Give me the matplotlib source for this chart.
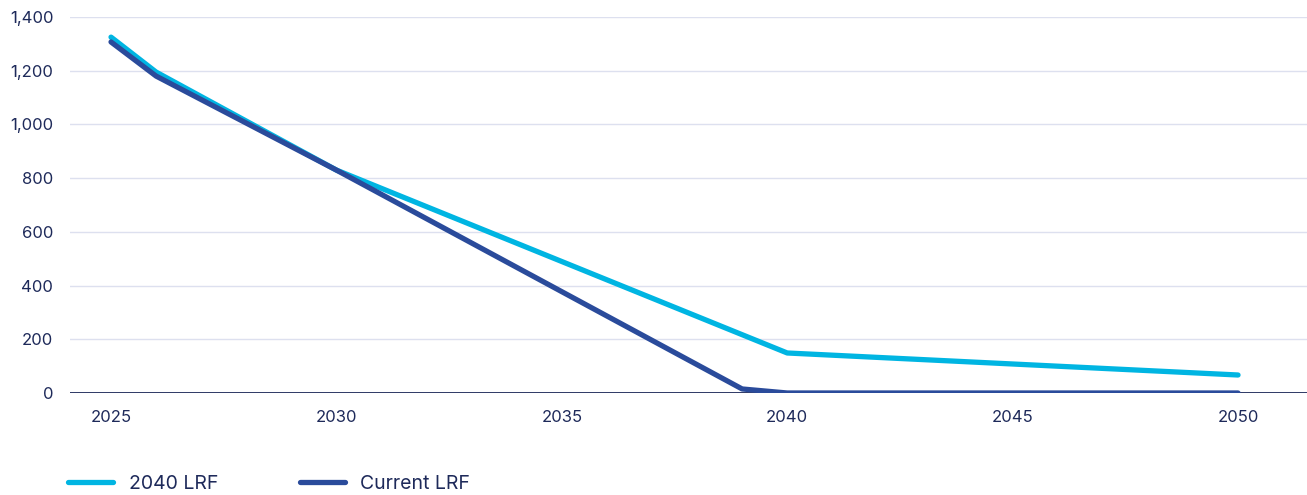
import matplotlib.pyplot as plt
from matplotlib.ticker import FuncFormatter

# Emissions cap paths under the two linear reduction factor scenarios
years_2040 = [2025, 2026, 2030, 2040, 2050]
cap_2040 = [1325, 1195, 830, 149, 67]

years_current = [2025, 2026, 2030, 2039, 2040, 2050]
cap_current = [1307, 1180, 830, 15, 0, 0]

x_ticks = [2025, 2030, 2035, 2040, 2045, 2050]
y_ticks = [0, 200, 400, 600, 800, 1000, 1200, 1400]

navy = "#1e2a5a"
cyan = "#00b5e2"
blue = "#2a4b9b"

plt.rcParams["font.family"] = ["Inter", "DejaVu Sans"]

fig = plt.figure(figsize=(13.07, 4.95), dpi=100)
ax = fig.add_axes([70 / 1307, 1 - 393 / 495, 1237 / 1307, 376 / 495])

ax.plot(years_2040, cap_2040, color=cyan, lw=3.8, solid_capstyle="round",
        solid_joinstyle="round", label="2040 LRF", zorder=3)
ax.plot(years_current, cap_current, color=blue, lw=3.8, solid_capstyle="round",
        solid_joinstyle="round", label="Current LRF", zorder=3)

ax.set_xlim(2024.09, 2051.53)
ax.set_ylim(0, 1400)
ax.set_xticks(x_ticks)
ax.set_yticks(y_ticks)
ax.yaxis.set_major_formatter(FuncFormatter(lambda v, _: f"{v:,.0f}"))

ax.grid(axis="y", color="#dde0ef", lw=1)
ax.set_axisbelow(True)
ax.axhline(0, color=navy, lw=1.3, zorder=2)

for s in ax.spines.values():
    s.set_visible(False)
ax.tick_params(length=0, labelsize=12, labelcolor=navy)
ax.tick_params(axis="y", pad=12)
ax.tick_params(axis="x", pad=12)

fig.legend(loc="center left", bbox_to_anchor=(0.039, 1 - 484 / 495), ncol=2,
           frameon=False, fontsize=14, labelcolor=navy, handlelength=2.3,
           handletextpad=0.8, columnspacing=4.2)

fig.savefig("out.png", dpi=100)
